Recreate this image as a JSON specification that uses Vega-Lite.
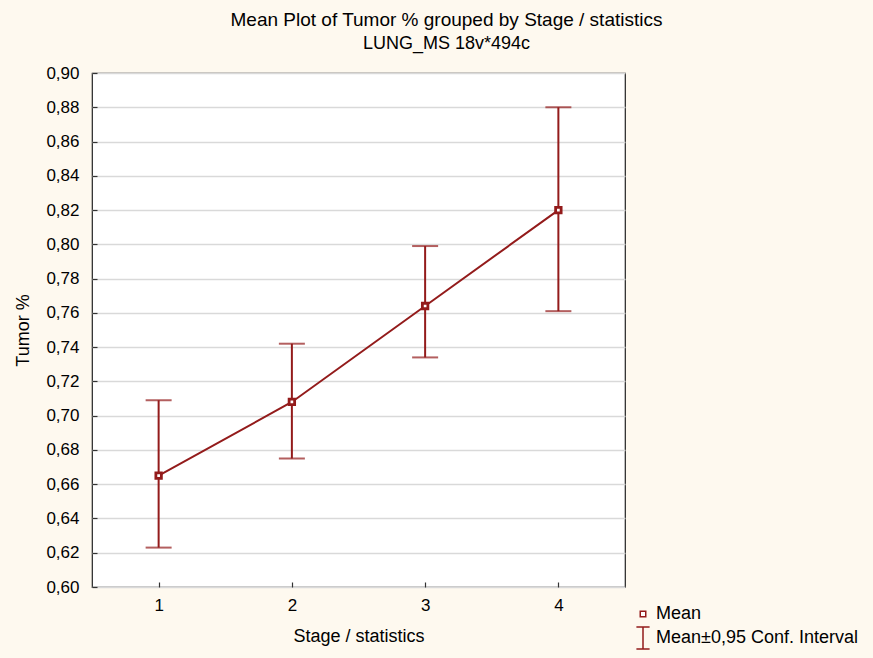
{
  "$schema": "https://vega.github.io/schema/vega-lite/v6.json",
  "autosize": {"type": "none"},
  "width": 533,
  "height": 514,
  "padding": {"left": 92, "top": 73, "right": 248, "bottom": 71},
  "background": "#FEF9EF",
  "title": {
    "text": "Mean Plot of Tumor % grouped by  Stage / statistics",
    "subtitle": "LUNG_MS 18v*494c",
    "anchor": "middle",
    "dx": 88,
    "offset": 11,
    "font": "Liberation Sans",
    "fontSize": 19,
    "fontWeight": "normal",
    "color": "#000000",
    "subtitleFont": "Liberation Sans",
    "subtitleFontSize": 18,
    "subtitleColor": "#000000",
    "subtitlePadding": 5
  },
  "config": {
    "view": {"stroke": "#222222", "strokeWidth": 1.2, "fill": "#FFFFFF"},
    "axis": {
      "domain": false,
      "labelFont": "Liberation Sans",
      "labelFontSize": 17,
      "labelColor": "#000000",
      "labelOverlap": false,
      "titleFont": "Liberation Sans",
      "titleFontSize": 18,
      "titleFontWeight": "normal",
      "titleColor": "#000000",
      "tickColor": "#333333",
      "tickSize": -5,
      "tickWidth": 1.2,
      "gridColor": "#D9D9D9",
      "gridWidth": 1.5
    }
  },
  "data": {
    "values": [
      {"stage": 1, "mean": 0.665, "lo": 0.623, "hi": 0.709},
      {"stage": 2, "mean": 0.708, "lo": 0.675, "hi": 0.742},
      {"stage": 3, "mean": 0.764, "lo": 0.734, "hi": 0.799},
      {"stage": 4, "mean": 0.820, "lo": 0.761, "hi": 0.880}
    ]
  },
  "encoding": {
    "x": {
      "field": "stage",
      "type": "quantitative",
      "scale": {"domain": [0.5, 4.5], "nice": false, "zero": false},
      "axis": {
        "title": "Stage / statistics",
        "values": [1, 2, 3, 4],
        "tickCount": 10,
        "format": "d",
        "grid": false,
        "labelPadding": 15,
        "titlePadding": 14
      }
    }
  },
  "layer": [
    {
      "mark": {"type": "rule", "color": "#931B1B", "strokeWidth": 2},
      "encoding": {
        "y": {
          "field": "lo",
          "type": "quantitative",
          "scale": {"domain": [0.6, 0.9], "nice": false, "zero": false},
          "axis": {
            "title": "Tumor %",
            "values": [0.6, 0.62, 0.64, 0.66, 0.68, 0.7, 0.72, 0.74, 0.76, 0.78, 0.8, 0.82, 0.84, 0.86, 0.88, 0.9],
            "tickCount": 30,
            "labelExpr": "replace(format(datum.value, '.2f'), '.', ',')",
            "labelPadding": 18,
            "titlePadding": 13
          }
        },
        "y2": {"field": "hi"}
      }
    },
    {
      "mark": {"type": "tick", "orient": "horizontal", "color": "#931B1B", "size": 26, "thickness": 2},
      "encoding": {"y": {"field": "lo", "type": "quantitative"}}
    },
    {
      "mark": {"type": "tick", "orient": "horizontal", "color": "#931B1B", "size": 26, "thickness": 2},
      "encoding": {"y": {"field": "hi", "type": "quantitative"}}
    },
    {
      "mark": {"type": "line", "color": "#931B1B", "strokeWidth": 2},
      "encoding": {"y": {"field": "mean", "type": "quantitative"}}
    },
    {
      "mark": {"type": "point", "filled": false, "fill": "#FFFFFF", "fillOpacity": 1, "stroke": "#931B1B", "strokeWidth": 2.8, "opacity": 1, "size": 484},
      "encoding": {
        "y": {"field": "mean", "type": "quantitative"},
        "shape": {
          "datum": "Mean",
          "scale": {
            "domain": ["Mean", "Mean±0,95 Conf. Interval"],
            "range": ["M-0.25,-0.25H0.25V0.25H-0.25Z", "M-0.6,-1H0.6M0,-1V1M-0.6,1H0.6"]
          },
          "legend": {
            "title": null,
            "orient": "none",
            "legendX": 539,
            "legendY": 529,
            "symbolSize": 484,
            "labelFont": "Liberation Sans",
            "labelFontSize": 18,
            "labelColor": "#000000",
            "labelLimit": 400,
            "labelOffset": 1,
            "rowPadding": 1,
            "symbolOffset": 0,
            "encode": {
              "symbols": {
                "update": {
                  "stroke": {"value": "#931B1B"},
                  "strokeWidth": {"value": 2.4},
                  "fill": {"value": "#FFFFFF"},
                  "fillOpacity": {"value": 1},
                  "opacity": {"value": 1}
                }
              }
            }
          }
        }
      }
    }
  ]
}
